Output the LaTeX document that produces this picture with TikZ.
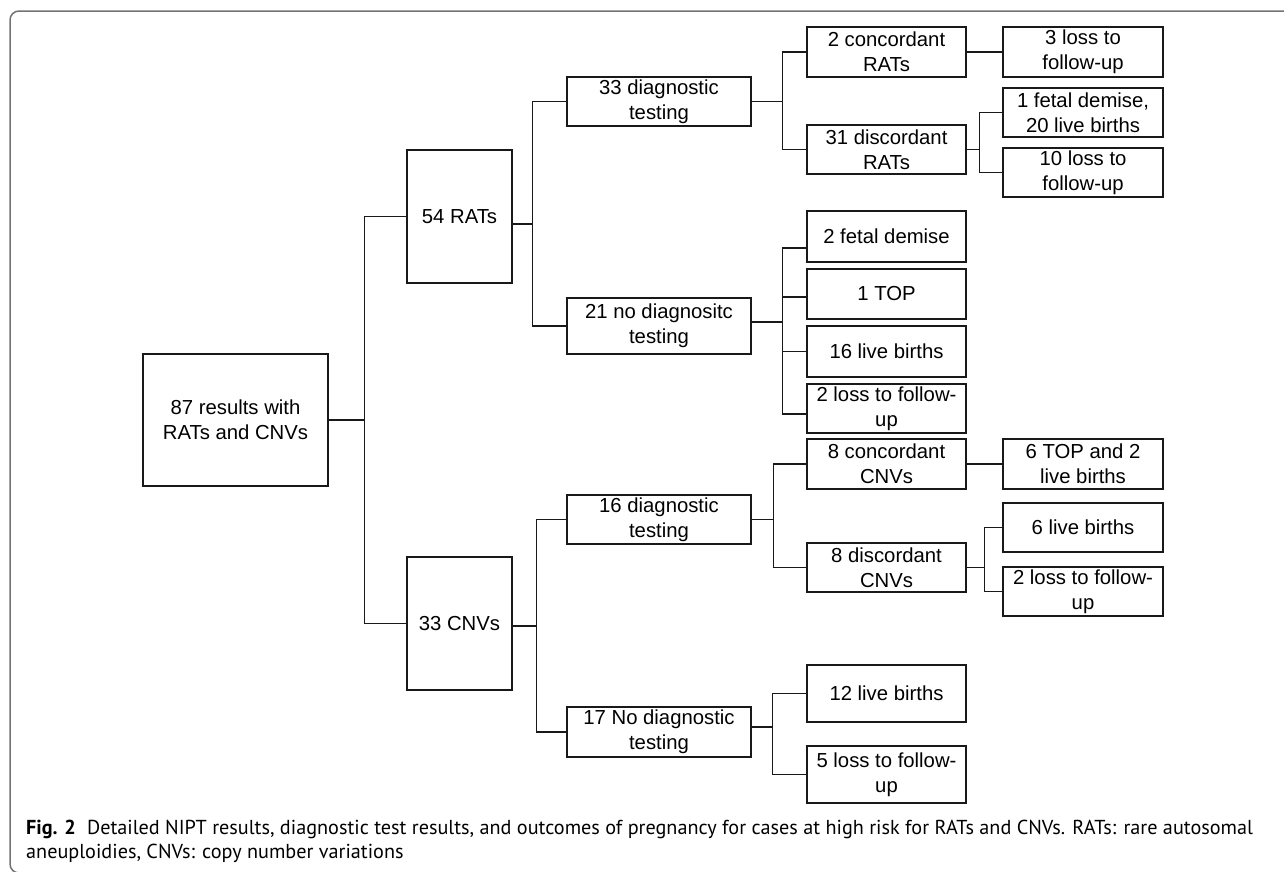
\documentclass[tikz,border=0pt]{standalone}
\usepackage{fontspec}
\setmainfont{Liberation Sans}
\newfontfamily\capfont{PT Sans}
\begin{document}
\begin{tikzpicture}[x=1pt,y=-1pt,
  bx/.style={draw=black!90, line width=1.2pt, inner sep=0pt, align=center, font=\fontsize{20.3}{25}\selectfont},
  ln/.style={draw=black!90, line width=1.2pt},
  captxt/.style={anchor=base west, inner sep=0pt, font=\capfont\fontsize{20.2}{24}\selectfont}]
\useasboundingbox (0,0) rectangle (1284,871);
\clip (0,0) rectangle (1284,871);
\draw[line width=1.5pt, draw=black!55, rounded corners=9pt] (10,11) rectangle (1300,873);

% level 0
\node[bx, minimum width=185pt, minimum height=132pt] (r87) at (235.5,420) {87 results with\\RATs and CNVs};
% level 1
\node[bx, minimum width=105pt, minimum height=133pt] (rats) at (459.5,216.5) {54 RATs};
\node[bx, minimum width=105pt, minimum height=133pt] (cnvs) at (459.5,623.5) {33 CNVs};
% level 2
\node[bx, minimum width=184pt, minimum height=49pt] (d33) at (659,101.5) {33 diagnostic\\testing};
\node[bx, minimum width=184pt, minimum height=56pt] (n21) at (659,326) {21 no diagnositc\\testing};
\node[bx, minimum width=184pt, minimum height=49pt] (d16) at (659,519.5) {16 diagnostic\\testing};
\node[bx, minimum width=184pt, minimum height=50pt] (n17) at (659,732) {17 No diagnostic\\testing};
% level 3
\node[bx, minimum width=159pt, minimum height=50pt] (c2) at (886.5,52) {2 concordant\\RATs};
\node[bx, minimum width=159pt, minimum height=49pt] (dc31) at (886.5,149.5) {31 discordant\\RATs};
\node[bx, minimum width=159pt, minimum height=51pt] (fd2) at (886.5,236.5) {2 fetal demise};
\node[bx, minimum width=159pt, minimum height=50pt] (top1) at (886.5,294) {1 TOP};
\node[bx, minimum width=159pt, minimum height=51pt] (lb16) at (886.5,351.5) {16 live births};
\node[bx, minimum width=159pt, minimum height=49pt] (lf2) at (886.5,408.5) {2 loss to follow-\\up};
\node[bx, minimum width=159pt, minimum height=50pt] (c8) at (886.5,464) {8 concordant\\CNVs};
\node[bx, minimum width=159pt, minimum height=49pt] (dc8) at (886.5,567.5) {8 discordant\\CNVs};
\node[bx, minimum width=159pt, minimum height=57pt] (lb12) at (886.5,693.5) {12 live births};
\node[bx, minimum width=159pt, minimum height=57pt] (lf5) at (886.5,774.5) {5 loss to follow-\\up};
% level 4
\node[bx, minimum width=160pt, minimum height=50pt] (lf3) at (1083,52) {3 loss to\\follow-up};
\node[bx, minimum width=160pt, minimum height=49pt] (fd1) at (1083,112.5) {1 fetal demise,\\20 live births};
\node[bx, minimum width=160pt, minimum height=49pt] (lf10) at (1083,172.5) {10 loss to\\follow-up};
\node[bx, minimum width=160pt, minimum height=50pt] (top6) at (1083,464) {6 TOP and 2\\live births};
\node[bx, minimum width=160pt, minimum height=49pt] (lb6) at (1083,527.5) {6 live births};
\node[bx, minimum width=160pt, minimum height=49pt] (lf2c) at (1083,591.5) {2 loss to follow-\\up};

% connectors
\draw[ln] (r87.east) -- ++(36,0) coordinate (j1);
\draw[ln] (j1) |- (rats.west);
\draw[ln] (j1) |- (cnvs.west);

\draw[ln] ([yshift=-7.5pt]rats.east) -- ++(20,0) coordinate (j2);
\draw[ln] (j2) |- (d33.west);
\draw[ln] (j2) |- (n21.west);

\draw[ln] ([yshift=-2.5pt]cnvs.east) -- ++(24,0) coordinate (j3);
\draw[ln] (j3) |- (d16.west);
\draw[ln] (j3) |- (n17.west);

\draw[ln] (d33.east) -- ++(31,0) coordinate (j4);
\draw[ln] (j4) |- (c2.west);
\draw[ln] (j4) |- (dc31.west);

\draw[ln] ([yshift=4pt]n21.east) -- ++(31,0) coordinate (j5);
\draw[ln] (j5) |- ([yshift=-11.5pt]fd2.west);
\draw[ln] (j5) |- ([yshift=-3pt]top1.west);
\draw[ln] (j5) |- (lb16.west);
\draw[ln] (j5) |- ([yshift=-5.5pt]lf2.west);

\draw[ln] (c2.east) -- (lf3.west);

\draw[ln] (dc31.east) -- ++(13,0) coordinate (j6);
\draw[ln] (j6) |- (fd1.west);
\draw[ln] (j6) |- (lf10.west);

\draw[ln] (d16.east) -- ++(22,0) coordinate (j7);
\draw[ln] (j7) |- (c8.west);
\draw[ln] (j7) |- (dc8.west);

\draw[ln] (c8.east) -- (top6.west);

\draw[ln] (dc8.east) -- ++(18,0) coordinate (j8);
\draw[ln] (j8) |- (lb6.west);
\draw[ln] (j8) |- (lf2c.west);

\draw[ln] ([yshift=5pt]n17.east) -- ++(21,0) coordinate (j9);
\draw[ln] (j9) |- (lb12.west);
\draw[ln] (j9) |- (lf5.west);

% caption
\node[captxt] (cap1) at (26,834) {\textbf{Fig. 2}\hspace{0.55em}Detailed NIPT results, diagnostic test results, and outcomes of pregnancy for cases at high risk for RATs and CNVs. RATs: rare autosomal};
\node[captxt] (cap2) at (26,858) {aneuploidies, CNVs: copy number variations};
\end{tikzpicture}
\end{document}
